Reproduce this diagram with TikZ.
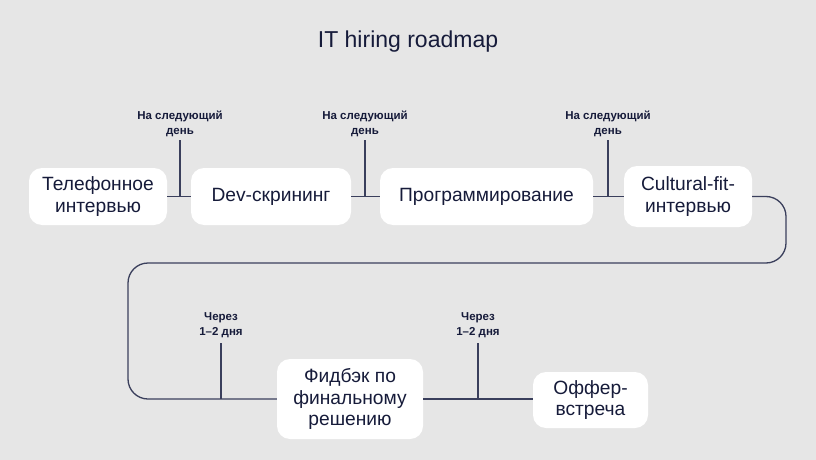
\documentclass[tikz,border=0pt]{standalone}
\usepackage{fontspec}
\setmainfont{Liberation Sans}
\definecolor{bg}{HTML}{E6E6E6}
\definecolor{ink}{HTML}{161B3A}
\definecolor{linec}{HTML}{3A3F5C}
\begin{document}
\begin{tikzpicture}[x=1pt,y=-1pt,
  box/.style={fill=white, rounded corners=13pt, align=center, text=ink, inner sep=0pt,
    font=\fontsize{19.2}{21.8}\selectfont},
  lbl/.style={align=center, anchor=south, text=ink, inner sep=0pt,
    font=\bfseries\fontsize{11.5}{15}\selectfont},
  conn/.style={draw=linec, line width=1.3pt}]
\useasboundingbox[fill=bg] (0,0) rectangle (816,460);

\node[text=ink, font=\fontsize{23}{26}\selectfont] (title) at (408,42) {IT hiring roadmap};

% boxes
\node[box, minimum width=138pt, minimum height=57pt] (b1) at (98,196.5) {Телефонное\\интервью};
\node[box, minimum width=160pt, minimum height=57pt] (b2) at (271,196.5) {Dev-скрининг};
\node[box, minimum width=213pt, minimum height=57pt] (b3) at (486.5,196.5) {Программирование};
\node[box, minimum width=128pt, minimum height=61pt] (b4) at (688,196.5) {Cultural-fit-\\интервью};
\node[box, minimum width=146pt, minimum height=80pt] (b5) at (350,399) {Фидбэк по\\финальному\\решению};
\node[box, minimum width=115pt, minimum height=56pt] (b6) at (590.5,400) {Оффер-\\встреча};

% tick coordinates
\coordinate (t1) at (180,196.5);
\coordinate (t2) at (365,196.5);
\coordinate (t3) at (608,196.5);
\coordinate (t5) at (221,399);
\coordinate (t6) at (478,399);

% corner coordinates of the loop
\coordinate (c1) at (786,196.5);
\coordinate (c2) at (786,263);
\coordinate (c3) at (128,263);
\coordinate (c4) at (128,399);

% labels
\node[lbl] (l1) at (180,137) {На следующий\\день};
\node[lbl] (l2) at (365,137) {На следующий\\день};
\node[lbl] (l3) at (608,137) {На следующий\\день};
\node[lbl] (l5) at (221,338) {Через\\1–2 дня};
\node[lbl] (l6) at (478,338) {Через\\1–2 дня};

% connectors
\draw[conn] (b1.east) -- (b2.west);
\draw[conn] (b2.east) -- (b3.west);
\draw[conn] (b3.east) -- (b4.west);
\draw[conn, rounded corners=20pt] (b4.east) -- (c1) -- (c2) -- (c3) -- (c4) -- (b5.west);
\draw[conn] (b5.east) -- (b6.west |- b5.east);
\draw[conn, shorten >=3pt] (t1) -- (l1.south);
\draw[conn, shorten >=3pt] (t2) -- (l2.south);
\draw[conn, shorten >=3pt] (t3) -- (l3.south);
\draw[conn, shorten >=5pt] (t5) -- (l5.south);
\draw[conn, shorten >=5pt] (t6) -- (l6.south);
\end{tikzpicture}
\end{document}
